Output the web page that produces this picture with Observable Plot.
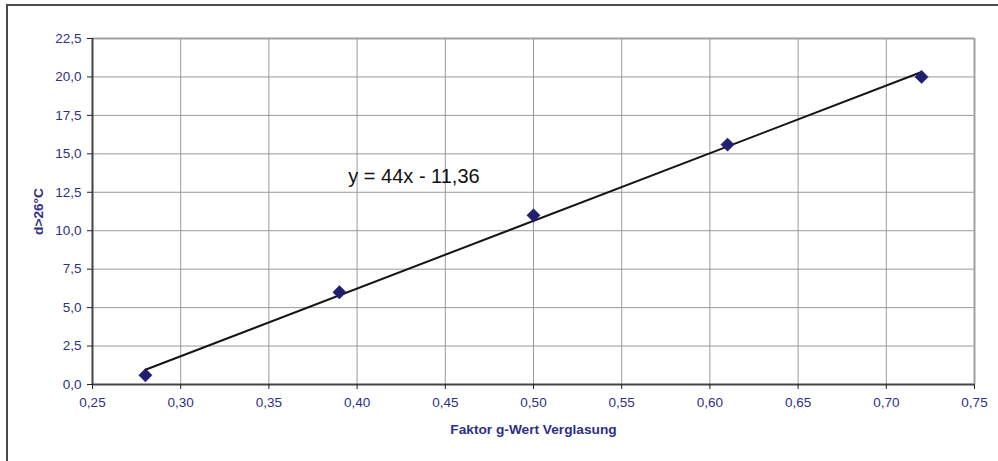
<!DOCTYPE html>
<html>
<head>
<meta charset="utf-8">
<script src="https://cdn.jsdelivr.net/npm/d3@7"></script>
<script src="https://cdn.jsdelivr.net/npm/@observablehq/plot@0.6"></script>
<style>
  html, body { margin: 0; padding: 0; background: #fff; }
  #wrap { position: relative; width: 998px; height: 461px; overflow: hidden; }
  #border { position: absolute; left: 6px; top: 4px; width: 1000px; height: 500px; border: 2px solid #4a4a4a; box-sizing: border-box; }
  #chart { position: absolute; left: 0; top: 0; }
</style>
</head>
<body>
<div id="wrap"><div id="border"></div><div id="chart"></div></div>
<script>
const gValues = [0.28, 0.39, 0.50, 0.61, 0.72];
const dValues = [0.6, 6.0, 11.0, 15.6, 20.0];
const xTicks = [0.25, 0.30, 0.35, 0.40, 0.45, 0.50, 0.55, 0.60, 0.65, 0.70, 0.75];
const yTicks = [0, 2.5, 5, 7.5, 10, 12.5, 15, 17.5, 20, 22.5];
const xTitle = "Faktor g-Wert Verglasung";
const yTitle = "d>26°C";
const equation = "y = 44x - 11,36";

const data = gValues.map((g, i) => ({g, d: dValues[i]}));
const navy = "#2e2f86";
const font = "'Liberation Sans', Arial, sans-serif";
const comma = (n, k) => n.toFixed(k).replace(".", ",");

const chart = Plot.plot({
  width: 998,
  height: 461,
  marginLeft: 92,
  marginRight: 24,
  marginTop: 38,
  marginBottom: 77,
  style: {fontFamily: font, background: "transparent", overflow: "visible"},
  x: {domain: [0.25, 0.75]},
  y: {domain: [0, 22.5]},
  marks: [
    Plot.gridX(xTicks, {stroke: "#9a9a9a", strokeOpacity: 1, strokeWidth: 1}),
    Plot.gridY(yTicks, {stroke: "#9a9a9a", strokeOpacity: 1, strokeWidth: 1}),
    Plot.ruleX([0.75], {stroke: "#a0a0a0", strokeWidth: 2}),
    Plot.ruleY([22.5], {stroke: "#a0a0a0", strokeWidth: 2}),
    Plot.ruleX([0.25], {stroke: "#444", strokeWidth: 2}),
    Plot.ruleY([0], {stroke: "#444", strokeWidth: 2}),
    Plot.axisX(xTicks, {tickFormat: d => comma(d, 2), tickSize: 5, tickPadding: 8, fontSize: 13.5, color: navy, stroke: "#222", label: null}),
    Plot.axisY(yTicks, {tickFormat: d => comma(d, 1), tickSize: 5, tickPadding: 6, fontSize: 13.5, color: navy, stroke: "#222", label: null}),
    Plot.linearRegressionY(data, {x: "g", y: "d", ci: 0, stroke: "#151515", strokeWidth: 2}),
    Plot.dot(data, {x: "g", y: "d", symbol: "diamond2", r: 6, fill: "#1f1f70", stroke: "#1f1f70", strokeWidth: 0.5}),
    Plot.text([equation], {x: 0.395, y: 13.5, text: d => d, textAnchor: "start", fontSize: 20, fill: "#111"}),
    Plot.text([xTitle], {frameAnchor: "bottom", dy: 45, lineAnchor: "middle", textAnchor: "middle", text: d => d, fontSize: 13.7, fontWeight: "bold", fill: navy}),
    Plot.text([yTitle], {frameAnchor: "left", dx: -54, rotate: -90, lineAnchor: "middle", textAnchor: "middle", text: d => d, fontSize: 13.7, fontWeight: "bold", fill: navy})
  ]
});
document.getElementById("chart").appendChild(chart);
</script>
</body>
</html>
